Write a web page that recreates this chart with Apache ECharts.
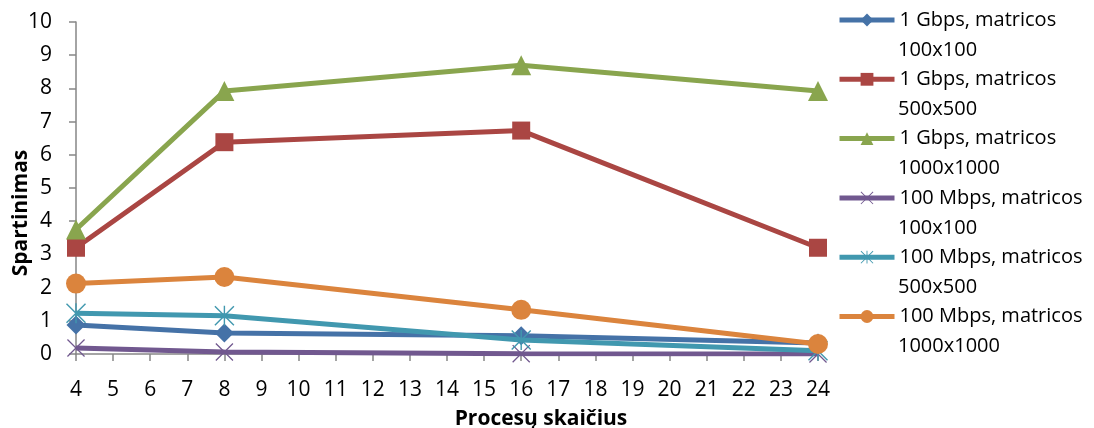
<!DOCTYPE html>
<html><head><meta charset="utf-8">
<script src="https://cdn.jsdelivr.net/npm/echarts@6/dist/echarts.min.js"></script>
<style>html,body{margin:0;padding:0;background:#fff}#c{width:1094px;height:428px}</style>
</head><body><div id="c"></div>
<script>
const xValues = [4, 8, 16, 24];
const seriesNames = [
  "1 Gbps, matricos\n100x100",
  "1 Gbps, matricos\n500x500",
  "1 Gbps, matricos\n1000x1000",
  "100 Mbps, matricos\n100x100",
  "100 Mbps, matricos\n500x500",
  "100 Mbps, matricos\n1000x1000"
];
const gbps100 = [0.87, 0.63, 0.55, 0.33];
const gbps500 = [3.2, 6.38, 6.73, 3.2];
const gbps1000 = [3.75, 7.92, 8.7, 7.92];
const mbps100 = [0.18, 0.06, 0.01, 0.0];
const mbps500 = [1.23, 1.15, 0.42, 0.1];
const mbps1000 = [2.12, 2.32, 1.33, 0.3];
const yTicks = [0,1,2,3,4,5,6,7,8,9,10];

const colors = ['#4572A7','#AA4643','#89A54E','#71588F','#4198AF','#DB843D'];
const X_PATH = 'path://M0,1 L1,0 L20,19 L19,20 Z M19,0 L20,1 L1,20 L0,19 Z';
const STAR_PATH = 'path://M0,1 L1,0 L20,19 L19,20 Z M19,0 L20,1 L1,20 L0,19 Z M9.3,0 L10.7,0 L10.7,20 L9.3,20 Z';
const symbols = ['diamond','rect','triangle',X_PATH,STAR_PATH,'circle'];
const symSizes = [19,18,20,18,20,20];
const allData = [gbps100,gbps500,gbps1000,mbps100,mbps500,mbps1000];
const font = '"Open Sans", Lato, sans-serif';

const legendText = {fontFamily:font,fontSize:20,color:'#000',lineHeight:30};
const chart = echarts.init(document.getElementById('c'));
chart.setOption({
  animation:false,
  color: colors,
  grid:{left:76,right:276,top:22,bottom:74,containLabel:false,outerBoundsMode:'none'},
  legend:[{
    orient:'vertical', left:837, top:5, padding:0, itemGap:29.3,
    itemWidth:55, itemHeight:16,
    lineStyle:{width:5},
    textStyle:legendText,
    formatter:n=>n.split('\n')[0],
    data: seriesNames
  },{
    orient:'vertical', left:837, top:35, padding:0, itemGap:29.3,
    itemWidth:55, itemHeight:16,
    itemStyle:{opacity:0}, lineStyle:{opacity:0},
    textStyle:legendText,
    formatter:n=>n.split('\n')[1],
    data: seriesNames
  }],
  xAxis:{
    type:'value', min:4, max:24, interval:1,
    name:'Procesų skaičius', nameLocation:'middle', nameGap:55,
    nameTextStyle:{fontFamily:font,fontSize:21,fontWeight:'bold',color:'#000',padding:[0,0,0,188]},
    axisLine:{lineStyle:{color:'#868686',width:1.5}},
    axisTick:{inside:false,length:7,lineStyle:{color:'#868686',width:1.5}},
    axisLabel:{fontFamily:font,fontSize:21,color:'#000',margin:26},
    splitLine:{show:false}
  },
  yAxis:{
    type:'value', min:0, max:10, interval:1,
    name:'Spartinimas', nameLocation:'middle', nameGap:44, nameMoveOverlap:false,
    nameTextStyle:{fontFamily:font,fontSize:21,fontWeight:'bold',color:'#000',padding:[0,50,0,0]},
    axisLine:{show:true,lineStyle:{color:'#868686',width:1.5}},
    axisTick:{show:true,inside:false,length:7,lineStyle:{color:'#868686',width:1.5}},
    axisLabel:{fontFamily:font,fontSize:21,color:'#000',margin:24,formatter:v=>yTicks.includes(v)?String(v):''},
    splitLine:{show:false}
  },
  series: allData.map((d,i)=>({
    name: seriesNames[i], type:'line',
    data: d.map((v,j)=>[xValues[j],v]),
    symbol: symbols[i], symbolSize: symSizes[i], showAllSymbol:true,
    lineStyle:{width:5,color:colors[i]},
    itemStyle:{color:colors[i]},
    z: 2+i
  }))
});
</script></body></html>
